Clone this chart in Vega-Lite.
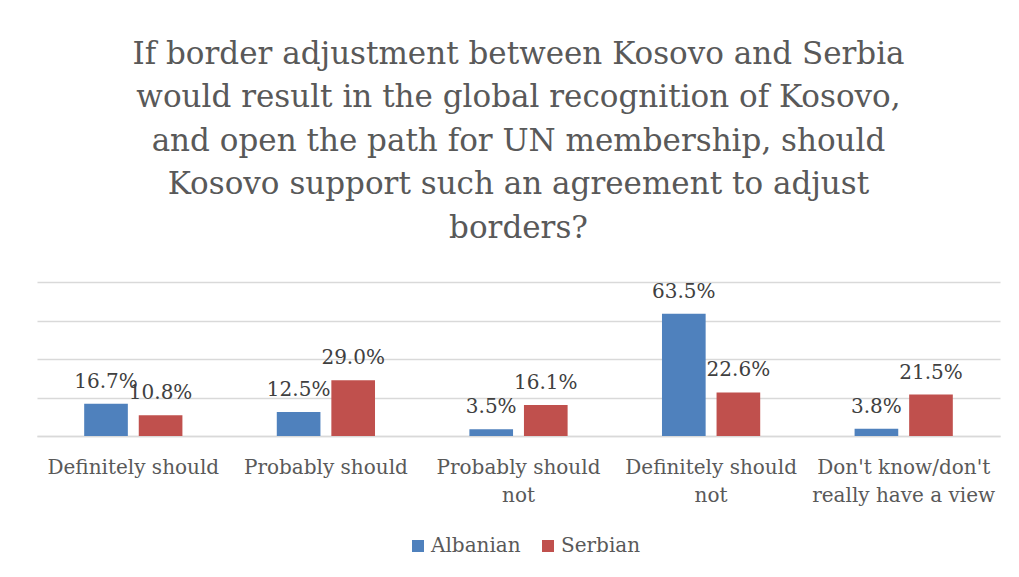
{
  "$schema": "https://vega.github.io/schema/vega-lite/v6.json",
  "width": 963,
  "height": 154,
  "autosize": {"type": "none"},
  "padding": {"left": 37, "top": 282, "right": 19, "bottom": 141},
  "background": "white",
  "config": {"view": {"stroke": null}},
  "title": {
    "text": ["If border adjustment between Kosovo and Serbia", "would result in the global recognition of Kosovo,", "and open the path for UN membership, should", "Kosovo support such an agreement to adjust", "borders?"],
    "font": "DejaVu Serif",
    "fontSize": 31,
    "fontWeight": "normal",
    "color": "#595959",
    "lineHeight": 43.5,
    "anchor": "middle",
    "frame": "group",
    "offset": 37
  },
  "data": {
    "values": [
      {"answer": "Definitely should", "group": "Albanian", "value": 0.167},
      {"answer": "Definitely should", "group": "Serbian", "value": 0.108},
      {"answer": "Probably should", "group": "Albanian", "value": 0.125},
      {"answer": "Probably should", "group": "Serbian", "value": 0.290},
      {"answer": "Probably should|not", "group": "Albanian", "value": 0.035},
      {"answer": "Probably should|not", "group": "Serbian", "value": 0.161},
      {"answer": "Definitely should|not", "group": "Albanian", "value": 0.635},
      {"answer": "Definitely should|not", "group": "Serbian", "value": 0.226},
      {"answer": "Don't know/don't|really have a view", "group": "Albanian", "value": 0.038},
      {"answer": "Don't know/don't|really have a view", "group": "Serbian", "value": 0.215}
    ]
  },
  "encoding": {
    "x": {
      "field": "answer",
      "type": "nominal",
      "sort": null,
      "scale": {"paddingInner": 0.49, "paddingOuter": 0.245},
      "axis": {
        "title": null,
        "labelExpr": "split(datum.value, '|')",
        "labelAngle": 0,
        "ticks": false,
        "domainColor": "#d9d9d9",
        "domainWidth": 1.5,
        "labelFont": "DejaVu Serif",
        "labelFontSize": 20,
        "labelColor": "#595959",
        "labelPadding": 21,
        "labelBaseline": "top",
        "labelLineHeight": 28,
        "labelLimit": 300
      }
    },
    "xOffset": {"field": "group", "type": "nominal", "scale": {"paddingInner": 0.2, "paddingOuter": 0}},
    "y": {
      "field": "value",
      "type": "quantitative",
      "scale": {"domain": [0, 0.8]},
      "axis": {
        "title": null,
        "labels": false,
        "ticks": false,
        "domain": false,
        "values": [0, 0.2, 0.4, 0.6, 0.8],
        "gridColor": "#d9d9d9",
        "gridWidth": 1.5
      }
    }
  },
  "layer": [
    {
      "mark": {"type": "bar"},
      "encoding": {
        "color": {
          "field": "group",
          "type": "nominal",
          "scale": {"domain": ["Albanian", "Serbian"], "range": ["#4F81BD", "#C0504D"]},
          "legend": {
            "orient": "none",
            "legendX": 371,
            "legendY": 254,
            "direction": "horizontal",
            "title": null,
            "symbolType": "square",
            "symbolSize": 144,
            "symbolStrokeWidth": 0,
            "labelOffset": 3,
            "labelFont": "DejaVu Serif",
            "labelFontSize": 20,
            "labelColor": "#595959",
            "columnPadding": 17
          }
        }
      }
    },
    {
      "mark": {"type": "text", "dy": -16, "baseline": "alphabetic", "font": "DejaVu Serif", "fontSize": 20},
      "encoding": {
        "text": {"field": "value", "type": "quantitative", "format": ".1%"},
        "color": {"value": "#404040"}
      }
    }
  ]
}
